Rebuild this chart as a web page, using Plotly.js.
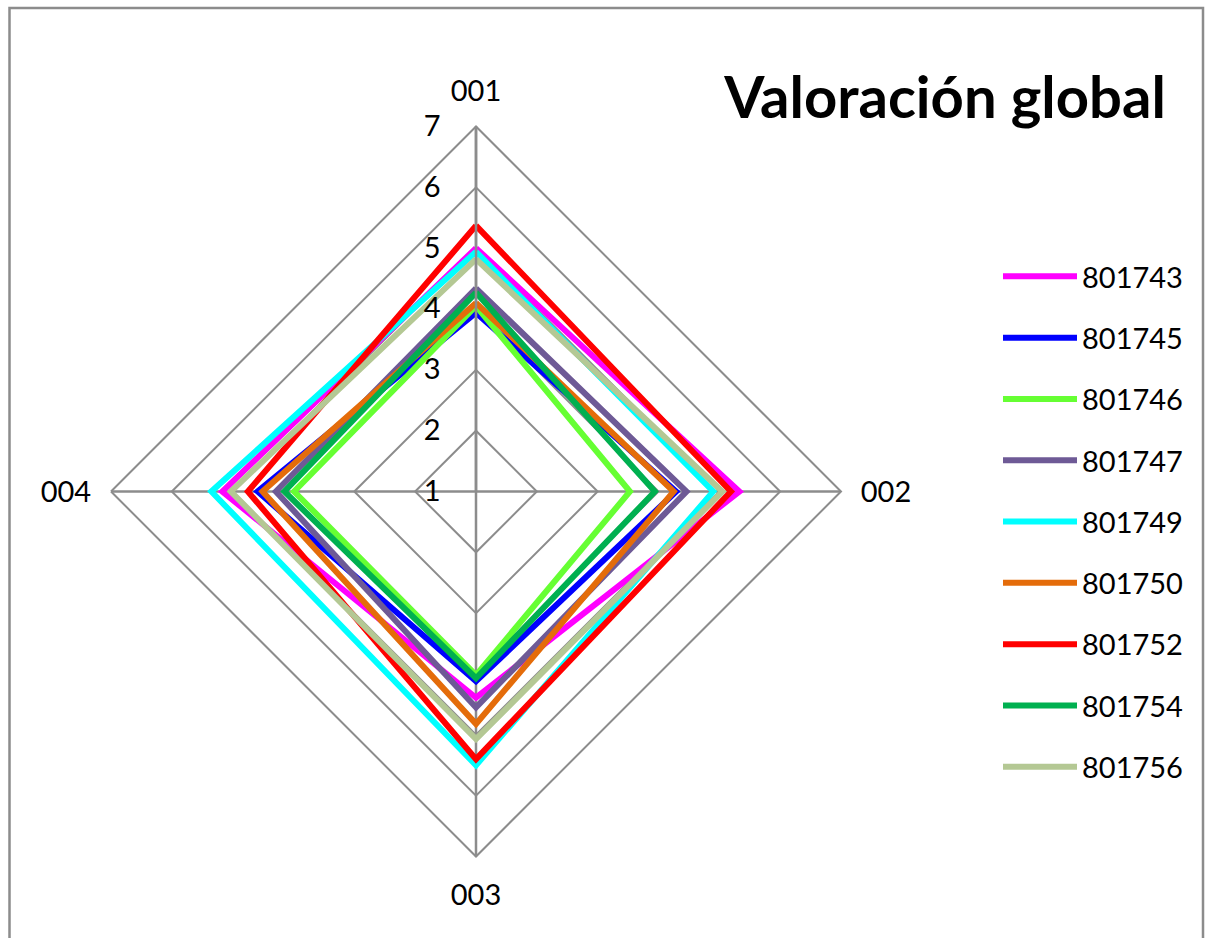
<!DOCTYPE html>
<html>
<head>
<meta charset="utf-8">
<script src="https://cdn.plot.ly/plotly-3.0.1.min.js"></script>
<style>
  html, body { margin: 0; padding: 0; background: #ffffff; }
  #chart { width: 1207px; height: 938px; }
</style>
</head>
<body>
<div id="chart"></div>
<script>
// Categories (axes of the radar)
const categories = ['001', '002', '003', '004'];

// Series names
const seriesNames = ['801743', '801745', '801746', '801747', '801749', '801750', '801752', '801754', '801756'];

// Series values (order: 001, 002, 003, 004)
const v801743 = [5.00, 5.33, 4.39, 5.17];
const v801745 = [3.94, 4.29, 4.12, 4.59];
const v801746 = [4.05, 3.53, 4.02, 3.99];
const v801747 = [4.34, 4.46, 4.55, 4.29];
const v801749 = [4.94, 4.90, 5.50, 5.35];
const v801750 = [4.10, 4.25, 4.82, 4.51];
const v801752 = [5.37, 5.19, 5.40, 4.75];
const v801754 = [4.27, 3.94, 4.07, 4.15];
const v801756 = [4.82, 5.05, 5.07, 5.03];

const seriesValues = [v801743, v801745, v801746, v801747, v801749, v801750, v801752, v801754, v801756];
const seriesColors = ['#ff00ff', '#0000ff', '#66ff33', '#6e5a96', '#00ffff', '#e46c0a', '#ff0000', '#00b050', '#b4c894'];

const radialTicks = [1, 2, 3, 4, 5, 6, 7];

const FONT = 'Lato, "Open Sans", sans-serif';
const GRID = '#8c8c8c';

const traces = seriesNames.map((name, i) => ({
  type: 'scatterpolar',
  mode: 'lines',
  name: name,
  legendgroup: name,
  theta: categories.concat([categories[0]]),
  r: seriesValues[i].concat([seriesValues[i][0]]),
  line: { color: seriesColors[i], width: 6 },
  hoverinfo: 'name+r+theta'
}));

const W = 1207, H = 938;
const cx = 476, cy = 491.5, R = 365;

const layout = {
  width: W,
  height: H,
  margin: { l: 0, r: 0, t: 0, b: 0 },
  paper_bgcolor: '#ffffff',
  font: { family: FONT, size: 29, color: '#000000' },
  title: {
    text: '<b>Valoración global</b>',
    font: { family: FONT, size: 58, color: '#000000' },
    x: 945 / W,
    xanchor: 'center',
    xref: 'paper',
    yref: 'container',
    y: 1 - 98 / H,
    yanchor: 'middle'
  },
  showlegend: true,
  legend: {
    x: 998 / W,
    xanchor: 'left',
    y: 1 - 251 / H,
    yanchor: 'top',
    font: { family: FONT, size: 29, color: '#000000' },
    tracegroupgap: 20.6,
    itemwidth: 74,
    bgcolor: 'rgba(0,0,0,0)'
  },
  polar: {
    domain: {
      x: [(cx - R) / W, (cx + R) / W],
      y: [(H - cy - R) / H, (H - cy + R) / H]
    },
    bgcolor: '#ffffff',
    gridshape: 'linear',
    radialaxis: {
      range: [1, 7],
      tickvals: radialTicks,
      ticktext: radialTicks.map(String),
      angle: 90,
      tickangle: 90,
      side: 'counterclockwise',
      showline: true,
      linecolor: GRID,
      linewidth: 2.5,
      showgrid: true,
      gridcolor: GRID,
      gridwidth: 2,
      ticks: 'outside',
      ticklen: 24,
      tickcolor: 'rgba(0,0,0,0)',
      tickfont: { family: FONT, size: 29, color: '#000000' }
    },
    angularaxis: {
      type: 'category',
      categoryarray: categories,
      direction: 'clockwise',
      rotation: 90,
      showline: true,
      linecolor: GRID,
      linewidth: 2,
      showgrid: true,
      gridcolor: GRID,
      gridwidth: 2.5,
      ticks: 'outside',
      ticklen: 13,
      tickcolor: 'rgba(0,0,0,0)',
      tickfont: { family: FONT, size: 29, color: '#000000' }
    }
  },
  shapes: [{
    type: 'rect',
    xref: 'paper', yref: 'paper',
    x0: 9.5 / W, x1: 1203 / W,
    y0: -0.05, y1: 1 - 8 / H,
    line: { color: '#8c8c8c', width: 2.5 },
    fillcolor: 'rgba(0,0,0,0)',
    layer: 'above'
  }]
};

Plotly.newPlot('chart', traces, layout, { displayModeBar: false, staticPlot: true });
</script>
</body>
</html>
